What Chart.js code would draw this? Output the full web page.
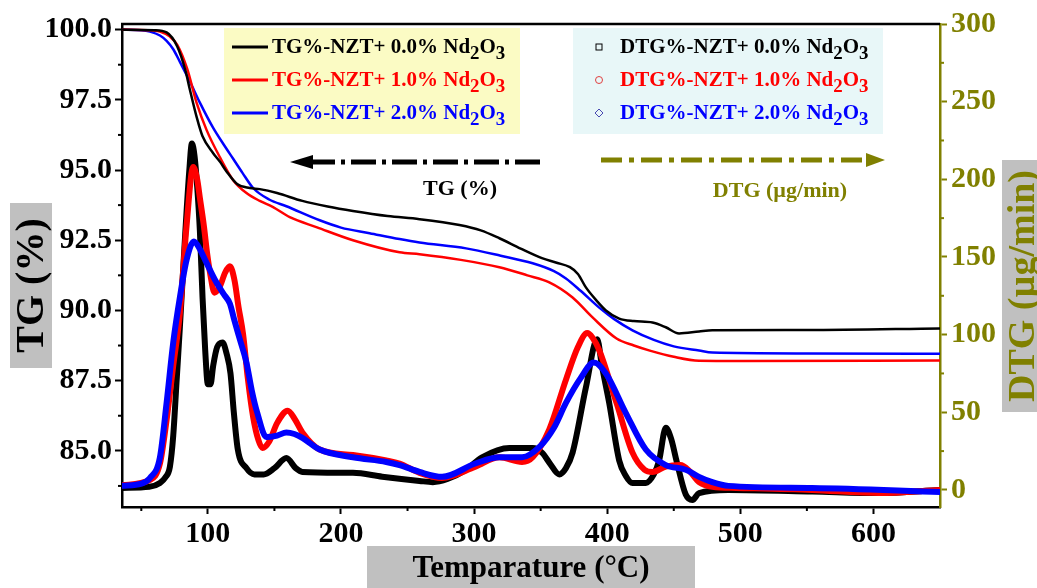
<!DOCTYPE html>
<html lang="en">
<head>
<meta charset="UTF-8" />
<title>TG / DTG – NZT + Nd2O3</title>
<script src="https://cdn.jsdelivr.net/npm/chart.js"></script>
<style>
  html, body { margin: 0; padding: 0; background: #fff; }
  #wrap { width: 1037px; height: 588px; }
</style>
</head>
<body>
<div id="wrap"><canvas id="tgChart" width="1037" height="588"></canvas></div>
<script>
  // Nd2O3 content of each sample and its colour
  const doping = ['0.0%', '1.0%', '2.0%'];
  const colors = ['#000000', '#ff0000', '#0000ff'];
  const olive = '#808000';

  // TG curves: temperature (°C) / weight (%)
  const tg0T = [35.5, 60, 69, 77, 83, 86.5, 91.5, 96, 104, 109, 114, 122, 131.5, 139, 152, 171, 190, 209, 235, 259, 289, 305, 319, 335, 351, 362, 372, 378, 384, 392, 399, 409, 420, 434, 444, 454, 469, 479, 550, 650];
  const tg0  = [100, 99.98, 99.9, 99.4, 98.57, 97.86, 96.9, 96.2, 95.6, 95.3, 94.95, 94.5, 94.36, 94.32, 94.18, 93.9, 93.7, 93.54, 93.36, 93.25, 93.04, 92.85, 92.57, 92.2, 91.86, 91.7, 91.54, 91.3, 90.82, 90.35, 90.0, 89.71, 89.62, 89.57, 89.4, 89.18, 89.25, 89.29, 89.3, 89.36];

  const tg1T = [35.5, 55, 64, 71.5, 77, 84.5, 91.5, 99, 109, 119, 129, 139, 149, 161.5, 182, 209, 244, 259, 290, 319, 340, 356.5, 374, 389, 407, 420, 432, 450, 469, 500, 650];
  const tg1  = [100, 99.98, 99.93, 99.75, 99.46, 98.6, 97.4, 96.43, 95.46, 94.64, 94.18, 93.9, 93.68, 93.32, 92.96, 92.5, 92.07, 92.0, 91.8, 91.54, 91.25, 91.0, 90.46, 89.75, 89.0, 88.75, 88.57, 88.35, 88.21, 88.2, 88.22];

  const tg2T = [35.5, 50, 56.5, 64, 69, 74, 79, 86.5, 94, 104, 112, 119, 126, 134, 146, 159, 184, 200, 221.5, 244, 259, 294, 320, 344, 360, 369, 380, 394, 405, 419, 435, 450, 469, 479, 550, 650];
  const tg2  = [100, 99.98, 99.93, 99.79, 99.6, 99.3, 98.85, 98.15, 97.4, 96.5, 95.9, 95.4, 94.9, 94.36, 93.95, 93.71, 93.21, 92.95, 92.75, 92.54, 92.42, 92.21, 91.95, 91.68, 91.4, 91.14, 90.7, 90.1, 89.7, 89.29, 88.95, 88.72, 88.57, 88.5, 88.47, 88.46];

  // DTG curves: temperature (°C) / rate (µg/min)
  const dtg0T = [35.5, 56, 64, 68, 71.5, 74, 76.5, 79, 83, 86, 88, 90, 92, 94, 96, 98, 100, 102, 104, 107, 111, 114, 117, 119.5, 122.5, 129, 135, 142, 150, 159, 166, 171, 209, 231, 259, 269, 280, 294, 306, 326.5, 344, 351, 357, 364, 369, 374, 384, 392.5, 396, 401.5, 409, 414, 419, 429, 435, 439, 444, 448, 452, 459, 464, 469, 491, 554, 604, 650];
  const dtg0  = [1.3, 2, 4.5, 8, 15, 35, 70, 105, 165, 205, 223, 215, 195, 167, 124, 90, 68, 68, 80, 92, 95, 88, 75, 50, 26, 14, 10, 10, 14, 20.5, 14, 11.6, 11, 8.5, 5.8, 5, 7, 13, 21, 27, 27, 24, 17, 10, 14, 24, 66, 97, 80, 56, 19, 9, 4.5, 4.5, 10, 19, 40, 33, 19, -3, -6.5, -2, 0, -1, -2, 0];

  const dtg1T = [35.5, 56.5, 64, 69, 74, 79, 84, 89, 92, 94, 97, 99.5, 102, 105, 109, 113, 116.5, 120, 123, 126.5, 130, 134, 138, 141, 146, 152, 160, 165, 171, 184, 209, 234, 244, 259, 276, 301, 319, 336, 344, 356.5, 369, 378, 385, 389, 394, 407, 419, 428, 434, 444, 455, 462, 469, 479, 497, 554, 604, 650];
  const dtg1  = [3, 6.4, 17, 45, 80, 114, 170, 208, 200, 188, 170, 152, 138, 127, 131, 140, 144, 135, 118, 100, 72, 47, 32, 27, 31, 43, 51, 46, 37, 26, 22.5, 19, 17, 11, 7.7, 15, 21, 18, 21, 39, 71, 92, 101, 98, 90, 56, 24, 13, 11.5, 15, 16, 12, 5, 2, 1.3, 0, -2, 0];

  const dtg2T = [35.5, 50, 56.5, 64, 69, 74, 79, 84, 89.5, 94, 98, 105.5, 112, 116.5, 120, 124, 129, 133, 137, 144, 152, 159, 165, 171, 184, 209, 234, 244, 259, 276, 301, 319, 336, 349.5, 360, 369, 380, 390, 399, 414, 429, 444, 459, 469, 479, 491, 554, 650];
  const dtg2  = [2.6, 4, 7.7, 21, 56, 95, 124, 148, 160, 155, 148, 135, 126, 120, 109, 97, 82, 64, 50, 34, 35, 37, 36, 33.5, 26, 21, 18, 16, 11.6, 8.4, 17, 21, 21, 28, 40, 56, 72, 82, 75, 49.5, 26, 16, 13, 8.4, 5, 2.6, 1.3, -1.3];

  const serif = "'Liberation Serif', 'Times New Roman', serif";
  const pts = (xs, ys) => xs.map((x, i) => ({ x: x, y: ys[i] }));

  function tgSet(i, xs, ys) {
    return {
      label: 'TG%-NZT+ ' + doping[i] + ' Nd2O3', data: pts(xs, ys), yAxisID: 'y',
      borderColor: colors[i], borderWidth: 2.5, pointRadius: 0,
      cubicInterpolationMode: 'monotone', order: 1
    };
  }
  function dtgSet(i, xs, ys) {
    return {
      label: 'DTG%-NZT+ ' + doping[i] + ' Nd2O3', data: pts(xs, ys), yAxisID: 'y2',
      borderColor: colors[i], borderWidth: 6, pointRadius: 0,
      borderJoinStyle: 'round', borderCapStyle: 'round',
      cubicInterpolationMode: 'monotone', order: 4 - i
    };
  }

  // Nd2O3 with lowered digits
  function drawFormula(ctx, x, base, prefix, color, size) {
    ctx.fillStyle = color;
    ctx.textAlign = 'left';
    ctx.textBaseline = 'alphabetic';
    const parts = [[prefix + 'Nd', 0], ['2', 1], ['O', 0], ['3', 1]];
    for (const [t, sub] of parts) {
      ctx.font = 'bold ' + (sub ? size * 0.9 : size) + 'px ' + serif;
      ctx.fillText(t, x, base + (sub ? size * 0.27 : 0));
      x += ctx.measureText(t).width;
    }
  }

  function dashArrow(ctx, xFrom, xTo, tip, y, color, dash) {
    ctx.save();
    ctx.strokeStyle = color;
    ctx.fillStyle = color;
    ctx.lineWidth = 5;
    ctx.setLineDash(dash);
    ctx.beginPath();
    ctx.moveTo(xFrom, y);
    ctx.lineTo(xTo, y);
    ctx.stroke();
    ctx.setLineDash([]);
    ctx.beginPath();
    ctx.moveTo(tip, y);
    ctx.lineTo(xTo, y - 7);
    ctx.lineTo(xTo, y + 7);
    ctx.closePath();
    ctx.fill();
    ctx.restore();
  }

  function greyTitle(ctx, x, y, w, h, text, color, size, rotate) {
    ctx.save();
    ctx.fillStyle = '#c0c0c0';
    ctx.fillRect(x, y, w, h);
    ctx.fillStyle = color;
    ctx.font = 'bold ' + size + 'px ' + serif;
    ctx.textAlign = 'center';
    ctx.textBaseline = 'middle';
    ctx.translate(x + w / 2, y + h / 2);
    if (rotate) ctx.rotate(-Math.PI / 2);
    ctx.fillText(text, 0, 2);
    ctx.restore();
  }

  const decorations = {
    id: 'decorations',
    afterDraw(chart) {
      const ctx = chart.ctx;
      const a = chart.chartArea;
      const sx = chart.scales.x, sy = chart.scales.y, sy2 = chart.scales.y2;

      ctx.save();
      // top frame line
      ctx.strokeStyle = '#000';
      ctx.lineWidth = 2.5;
      ctx.beginPath();
      ctx.moveTo(a.left - 1, a.top);
      ctx.lineTo(a.right, a.top);
      ctx.stroke();

      // minor ticks halfway between the labelled ones
      ctx.lineWidth = 2;
      for (let v = 50; v < sx.max; v += 100) {
        const px = sx.getPixelForValue(v);
        ctx.beginPath(); ctx.moveTo(px, a.bottom); ctx.lineTo(px, a.bottom + 4); ctx.stroke();
      }
      for (let v = 83.75; v < sy.max; v += 2.5) {
        const py = sy.getPixelForValue(v);
        ctx.beginPath(); ctx.moveTo(a.left, py); ctx.lineTo(a.left - 4, py); ctx.stroke();
      }
      ctx.strokeStyle = olive;
      for (let v = 25; v < sy2.max; v += 50) {
        const py = sy2.getPixelForValue(v);
        ctx.beginPath(); ctx.moveTo(a.right, py); ctx.lineTo(a.right + 4, py); ctx.stroke();
      }

      // legend boxes
      ctx.fillStyle = '#fbfbc4';
      ctx.fillRect(224, 28, 296, 106);
      ctx.fillStyle = '#e8f7f8';
      ctx.fillRect(573, 28, 310, 106);

      const rows = [47, 80, 113];
      rows.forEach((ry, i) => {
        ctx.strokeStyle = colors[i];
        ctx.lineWidth = 3;
        ctx.beginPath(); ctx.moveTo(232, ry); ctx.lineTo(268, ry); ctx.stroke();
        drawFormula(ctx, 272, ry + 6, 'TG%-NZT+ ' + doping[i] + ' ', colors[i], 21);
        drawFormula(ctx, 620, ry + 6, 'DTG%-NZT+ ' + doping[i] + ' ', colors[i], 21);
      });
      // DTG legend markers
      ctx.lineWidth = 1;
      ctx.strokeStyle = '#000';
      ctx.strokeRect(596, rows[0] - 3, 6, 6);
      ctx.strokeStyle = '#e04040';
      ctx.beginPath(); ctx.arc(599, rows[1], 3.5, 0, Math.PI * 2); ctx.stroke();
      ctx.strokeStyle = '#4848b0';
      ctx.beginPath();
      ctx.moveTo(599, rows[2] - 4); ctx.lineTo(603, rows[2]);
      ctx.lineTo(599, rows[2] + 4); ctx.lineTo(595, rows[2]);
      ctx.closePath(); ctx.stroke();

      // axis pointers
      dashArrow(ctx, 540, 313, 290, 162, '#000', [25, 6, 4, 6]);
      dashArrow(ctx, 601, 866, 885, 160, olive, [21, 7, 5, 7]);
      ctx.font = 'bold 22px ' + serif;
      ctx.textAlign = 'center';
      ctx.textBaseline = 'alphabetic';
      ctx.fillStyle = '#000';
      ctx.fillText('TG (%)', 460, 195);
      ctx.fillStyle = olive;
      ctx.fillText('DTG (\u00b5g/min)', 780, 197);

      // axis titles on grey boxes
      greyTitle(ctx, 10, 203, 42, 165, 'TG (%)', '#000', 40, true);
      greyTitle(ctx, 1002, 160, 40, 252, 'DTG (\u00b5g/min)', olive, 38, true);
      greyTitle(ctx, 367, 546, 328, 42, 'Temparature (\u00b0C)', '#000', 31, false);
      ctx.restore();
    }
  };

  const tickFont = { family: serif, size: 30, weight: 'bold' };

  new Chart(document.getElementById('tgChart'), {
    type: 'line',
    data: {
      datasets: [
        tgSet(0, tg0T, tg0), tgSet(1, tg1T, tg1), tgSet(2, tg2T, tg2),
        dtgSet(0, dtg0T, dtg0), dtgSet(1, dtg1T, dtg1), dtgSet(2, dtg2T, dtg2)
      ]
    },
    options: {
      responsive: false,
      devicePixelRatio: 1,
      animation: false,
      layout: { padding: { top: 24, left: 0, right: 0, bottom: 0 } },
      plugins: { legend: { display: false }, tooltip: { enabled: false } },
      scales: {
        x: {
          type: 'linear', position: 'bottom', min: 35.5, max: 650,
          ticks: { stepSize: 100, includeBounds: false, color: '#000', font: tickFont, padding: 2, maxRotation: 0 },
          grid: { drawOnChartArea: false, tickLength: 7, tickWidth: 2, tickColor: '#000' },
          border: { color: '#000', width: 2.5 },
          afterFit: s => { s.height = 81; }
        },
        y: {
          type: 'linear', position: 'left', min: 83, max: 100.2,
          ticks: { stepSize: 2.5, includeBounds: false, color: '#000', font: tickFont, padding: 3,
                   callback: v => v.toFixed(1) },
          grid: { drawOnChartArea: false, tickLength: 7, tickWidth: 2, tickColor: '#000' },
          border: { color: '#000', width: 2.5 },
          afterFit: s => { s.width = 122; }
        },
        y2: {
          type: 'linear', position: 'right', min: -11, max: 300,
          ticks: { stepSize: 50, includeBounds: false, color: olive, font: tickFont, padding: 4 },
          grid: { drawOnChartArea: false, tickLength: 7, tickWidth: 2, tickColor: olive },
          border: { color: olive, width: 2.5 },
          afterFit: s => { s.width = 97; }
        }
      }
    },
    plugins: [decorations]
  });
</script>
</body>
</html>
